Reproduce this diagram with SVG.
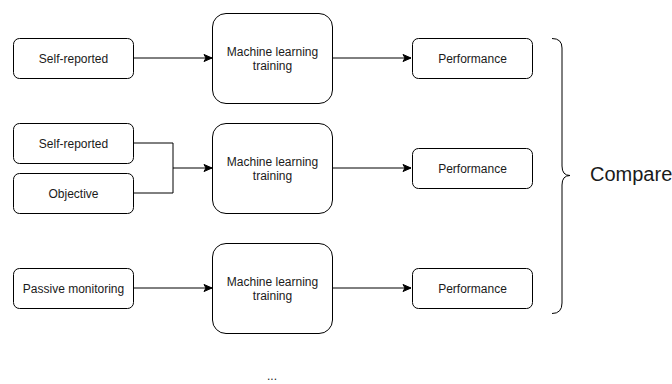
<svg xmlns="http://www.w3.org/2000/svg" width="672" height="384" viewBox="0 0 672 384">
<style>
.n{fill:#fff;stroke:#000;stroke-width:1}
.t{font-family:"Liberation Sans",Arial,sans-serif;font-size:12px;fill:#1a1a1a;text-anchor:middle}
.c{fill:none;stroke:#000;stroke-width:1}
</style>
<defs>
<marker id="a" markerWidth="10" markerHeight="8" refX="9" refY="4" orient="auto" markerUnits="userSpaceOnUse">
<path d="M1,0.5 L9,4 L1,7.5 L3,4 Z" fill="#000" stroke="#000" stroke-width="1"/>
</marker>
</defs>
<rect width="672" height="384" fill="#fff"/>
<g id="connectors">
<path class="c" d="M133,58 H212" marker-end="url(#a)"/>
<path class="c" d="M133,143 H173 V168 H212" marker-end="url(#a)"/>
<path class="c" d="M133,193 H173 V168"/>
<path class="c" d="M133,288 H212" marker-end="url(#a)"/>
<path class="c" d="M333,58 H411" marker-end="url(#a)"/>
<path class="c" d="M333,168 H411" marker-end="url(#a)"/>
<path class="c" d="M333,288 H411" marker-end="url(#a)"/>
</g>
<g id="in1"><rect class="n" x="13.5" y="38.5" width="120" height="40" rx="6"/><text class="t" x="73.5" y="62.5">Self-reported</text></g>
<g id="in2"><rect class="n" x="13.5" y="123.5" width="120" height="40" rx="6"/><text class="t" x="73.5" y="147.5">Self-reported</text></g>
<g id="in3"><rect class="n" x="13.5" y="173.5" width="120" height="40" rx="6"/><text class="t" x="73.5" y="197.5">Objective</text></g>
<g id="in4"><rect class="n" x="13.5" y="268.5" width="120" height="40" rx="6"/><text class="t" x="73.5" y="292.5">Passive monitoring</text></g>
<g id="ml1"><rect class="n" x="212.5" y="13.5" width="120" height="90" rx="13.5"/><text class="t" x="272.5" y="56">Machine learning</text><text class="t" x="272.5" y="70">training</text></g>
<g id="ml2"><rect class="n" x="212.5" y="123.5" width="120" height="90" rx="13.5"/><text class="t" x="272.5" y="166">Machine learning</text><text class="t" x="272.5" y="180">training</text></g>
<g id="ml3"><rect class="n" x="212.5" y="243.5" width="120" height="90" rx="13.5"/><text class="t" x="272.5" y="286">Machine learning</text><text class="t" x="272.5" y="300">training</text></g>
<g id="p1"><rect class="n" x="412.5" y="38.5" width="120" height="40" rx="6"/><text class="t" x="472.5" y="62.5">Performance</text></g>
<g id="p2"><rect class="n" x="412.5" y="148.5" width="120" height="40" rx="6"/><text class="t" x="472.5" y="172.5">Performance</text></g>
<g id="p3"><rect class="n" x="412.5" y="268.5" width="120" height="40" rx="6"/><text class="t" x="472.5" y="292.5">Performance</text></g>
<g id="brace">
<path class="c" d="M552,38.5 Q562,38.5 562,48 V166 Q562,175.5 570,175.5 Q562,175.5 562,185 V303 Q562,313.5 552,313.5"/>
</g>
<g id="compare"><text x="590" y="181" font-family="'Liberation Sans',Arial,sans-serif" font-size="20" fill="#1a1a1a">Compare</text></g>
<g id="dots"><text class="t" x="272" y="380" font-size="14">...</text></g>
</svg>
